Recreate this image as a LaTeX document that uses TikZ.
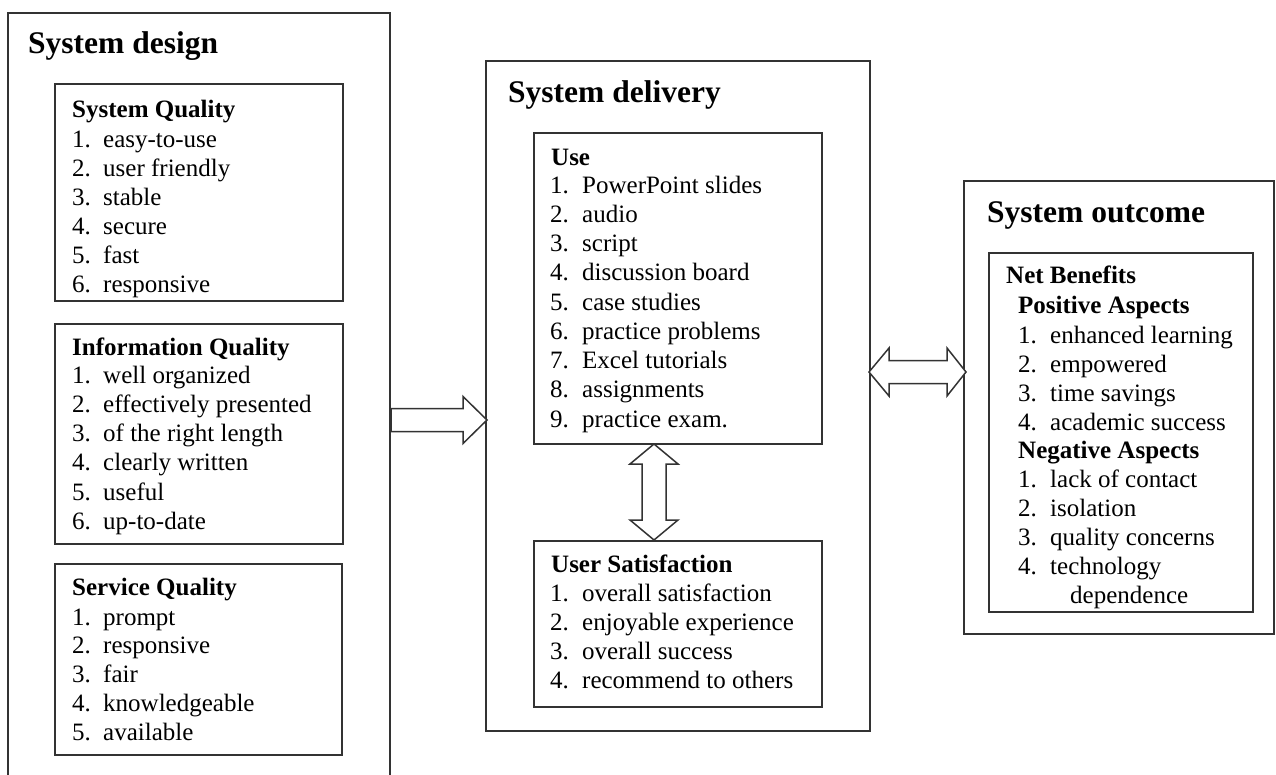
\documentclass[tikz,border=0pt]{standalone}
\usepackage{fontspec}
\setmainfont{Liberation Serif}
\begin{document}
\begin{tikzpicture}[x=1pt,y=-1pt,
  frame/.style={draw=black!80,line width=1.5pt,anchor=north west,inner sep=0pt,outer sep=0pt,fill=white},
  txt/.style={anchor=base west,inner sep=0pt,font=\fontsize{25}{29}\selectfont},
  hd/.style={txt,font=\fontsize{25}{29}\selectfont\bfseries},
  ttl/.style={anchor=base west,inner sep=0pt,font=\fontsize{31.5}{36}\selectfont\bfseries},
  blockarrow/.style={draw=black!80,line width=1.5pt,fill=white,line join=miter}]
\useasboundingbox (0,0) rectangle (1276,774);
\begin{scope}
\clip (0,0) rectangle (1276,774);
% ---------- System design ----------
\node[frame,minimum width=382pt,minimum height=800pt] (design) at (8,13) {};
\end{scope}
\node[ttl] (designT) at (28,53) {System design};
\node[frame,minimum width=288pt,minimum height=217pt] (sq) at (55,84) {};
\node[hd] (sqT) at (72,117) {System Quality};
\foreach \t [count=\i] in {easy-to-use,user friendly,stable,secure,fast,responsive}
  \node[txt] (sq\i) at (72,{147+29*(\i-1)}) {\makebox[31pt][l]{\i.}\t};
\node[frame,minimum width=288pt,minimum height=220pt] (iq) at (55,324) {};
\node[hd] (iqT) at (72,355) {Information Quality};
\foreach \t [count=\i] in {well organized,effectively presented,of the right length,clearly written,useful,up-to-date}
  \node[txt] (iq\i) at (72,{383+29.3*(\i-1)}) {\makebox[31pt][l]{\i.}\t};
\node[frame,minimum width=287pt,minimum height=191pt] (svq) at (55,564) {};
\node[hd] (svqT) at (72,595) {Service Quality};
\foreach \t [count=\i] in {prompt,responsive,fair,knowledgeable,available}
  \node[txt] (svq\i) at (72,{625+28.8*(\i-1)}) {\makebox[31pt][l]{\i.}\t};
% ---------- System delivery ----------
\node[frame,minimum width=384pt,minimum height=670pt] (deliv) at (486,61) {};
\node[ttl] (delivT) at (508,102) {System delivery};
\node[frame,minimum width=288pt,minimum height=311pt] (use) at (534,133) {};
\node[hd] (useT) at (551,165) {Use};
\foreach \t [count=\i] in {PowerPoint slides,audio,script,discussion board,case studies,practice problems,Excel tutorials,assignments,practice exam.}
  \node[txt] (use\i) at (550,{193+29.25*(\i-1)}) {\makebox[32pt][l]{\i.}\t};
\node[frame,minimum width=288pt,minimum height=166pt] (us) at (534,541) {};
\node[hd] (usT) at (551,572) {User Satisfaction};
\foreach \t [count=\i] in {overall satisfaction,enjoyable experience,overall success,recommend to others}
  \node[txt] (us\i) at (550,{601+29*(\i-1)}) {\makebox[32pt][l]{\i.}\t};
% ---------- System outcome ----------
\node[frame,minimum width=310pt,minimum height=453pt] (outc) at (964,181) {};
\node[ttl] (outcT) at (987,222) {System outcome};
\node[frame,minimum width=264pt,minimum height=359pt] (nb) at (989,253) {};
\node[hd] (nbT) at (1006,283) {Net Benefits};
\node[hd] (posT) at (1018,313) {Positive Aspects};
\foreach \t [count=\i] in {enhanced learning,empowered,time savings,academic success}
  \node[txt] (pos\i) at (1018,{343+29*(\i-1)}) {\makebox[32pt][l]{\i.}\t};
\node[hd] (negT) at (1018,458) {Negative Aspects};
\foreach \t [count=\i] in {lack of contact,isolation,quality concerns,technology}
  \node[txt] (neg\i) at (1018,{487+29*(\i-1)}) {\makebox[32pt][l]{\i.}\t};
\node[txt] (neg4b) at (1070,603) {dependence};
% ---------- arrows ----------
\coordinate (a1s) at (391,420);
\coordinate (a1e) at (487,420);
\draw[blockarrow] (a1s) ++(0,-11.5) -- ++(72,0) -- ++(0,-12) -- (a1e) -- ++(-24,23.5) -- ++(0,-12) -- ++(-72,0) -- cycle;
\coordinate (v1) at (654,444);
\coordinate (v2) at (654,540);
\draw[blockarrow] (v1) -- ++(24,20) -- ++(-12,0) -- ++(0,56) -- ++(12,0) -- (v2) -- ++(-24,-20) -- ++(12,0) -- ++(0,-56) -- ++(-12,0) -- cycle;
\coordinate (h1) at (869,372);
\coordinate (h2) at (966,372);
\draw[blockarrow] (h1) -- ++(20,-24) -- ++(0,12.5) -- ++(58,0) -- ++(0,-12.5) -- (h2) -- ++(-19,24) -- ++(0,-12.5) -- ++(-58,0) -- ++(0,12.5) -- cycle;
\end{tikzpicture}
\end{document}
